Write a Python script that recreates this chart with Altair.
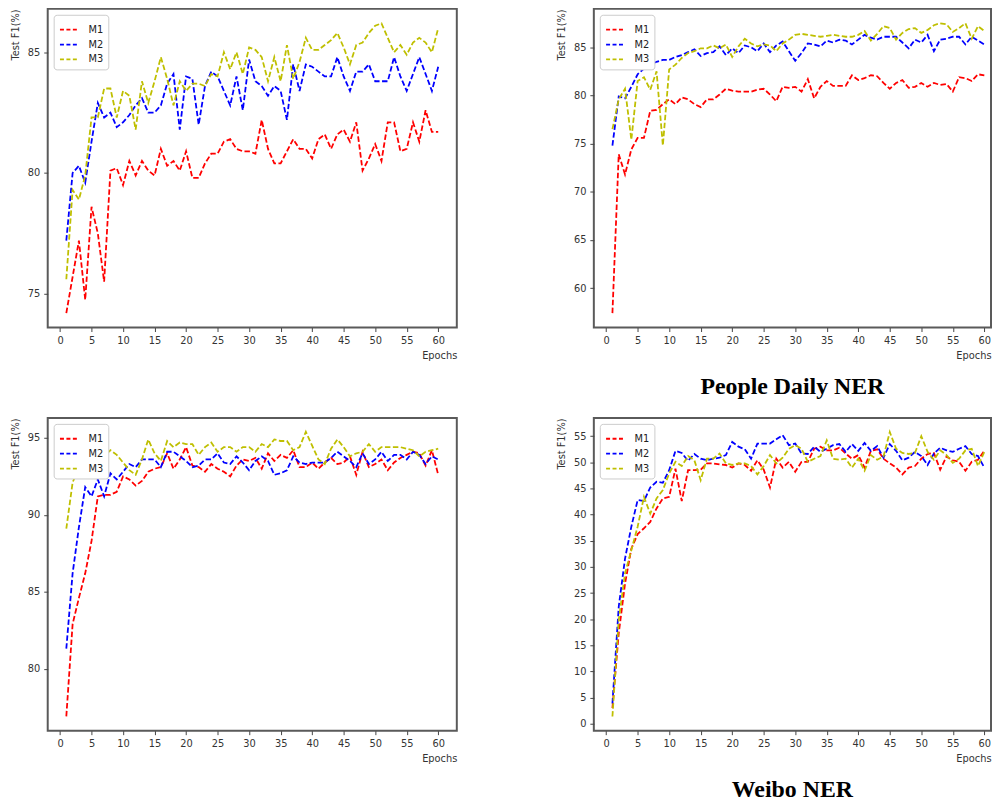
import altair as alt
import pandas as pd

epochs = list(range(1, 61))
models = ["M1", "M2", "M3"]
colors = ["#ff0000", "#0000ff", "#bfbf00"]
x_ticks = list(range(0, 61, 5))

# Panel 1 (top-left)
p1_m1 = [74.2, 75.7, 77.2, 74.75, 78.6, 77.5, 75.5, 80.1, 80.2, 79.5,
         80.5, 79.9, 80.5, 80.1, 79.9, 81.0, 80.3, 80.5, 80.1, 80.9,
         79.8, 79.8, 80.4, 80.8, 80.8, 81.3, 81.4, 81.0, 80.9, 80.9,
         80.8, 82.2, 81.0, 80.4, 80.4, 80.9, 81.4, 81.0, 81.0, 80.6,
         81.4, 81.6, 81.0, 81.6, 81.8, 81.3, 82.1, 80.1, 80.6, 81.2,
         80.5, 82.1, 82.1, 80.9, 81.0, 82.1, 81.3, 82.6, 81.7, 81.7]
p1_m2 = [77.2, 80.0, 80.3, 79.6, 81.3, 82.9, 82.3, 82.5, 81.9, 82.1,
         82.4, 82.8, 83.1, 82.5, 82.5, 82.8, 83.7, 84.1, 81.8, 84.0,
         83.9, 82.0, 83.6, 84.2, 84.0, 83.4, 82.8, 84.0, 82.6, 84.7,
         83.8, 83.6, 83.2, 83.6, 83.4, 82.2, 84.5, 83.4, 84.5, 84.4,
         84.2, 84.0, 84.0, 84.8, 84.0, 83.4, 84.2, 84.2, 84.5, 83.8,
         83.8, 83.8, 84.8, 84.0, 83.4, 84.1, 84.8, 84.1, 83.4, 84.4]
p1_m3 = [75.6, 79.3, 78.9, 79.9, 82.3, 82.3, 83.5, 83.5, 82.3, 83.4,
         83.2, 81.8, 83.8, 82.9, 83.8, 84.8, 83.9, 82.8, 83.8, 83.4,
         83.7, 83.7, 83.6, 84.1, 84.0, 85.0, 84.3, 85.0, 84.1, 85.2,
         85.1, 84.8, 83.8, 84.8, 83.8, 85.3, 83.9, 84.6, 85.6, 85.1,
         85.1, 85.3, 85.5, 85.8, 85.2, 84.5, 85.3, 85.4, 85.8, 86.1,
         86.2, 85.6, 85.0, 85.3, 84.9, 85.4, 85.6, 85.4, 85.0, 86.0]

# Panel 2 (People Daily NER)
p2_m1 = [57.4, 73.9, 71.8, 74.4, 75.6, 75.6, 78.4, 78.5, 79.1, 79.6,
         79.1, 79.8, 79.6, 79.1, 78.8, 79.6, 79.6, 80.1, 80.7, 80.5,
         80.4, 80.4, 80.4, 80.6, 80.7, 80.1, 79.4, 80.9, 80.8, 80.9,
         80.4, 81.7, 79.7, 80.9, 81.5, 81.0, 81.0, 81.0, 82.1, 81.6,
         81.8, 82.1, 82.0, 81.3, 80.7, 81.3, 81.6, 80.8, 80.9, 81.3,
         80.9, 81.3, 81.1, 81.2, 80.4, 81.9, 81.8, 81.5, 82.2, 82.1]
p2_m2 = [74.8, 79.9, 79.7, 80.9, 82.2, 82.8, 83.2, 83.5, 83.7, 83.7,
         84.0, 84.2, 84.5, 84.8, 84.1, 84.4, 84.5, 85.1, 84.2, 84.9,
         84.4, 85.2, 85.0, 84.6, 85.4, 84.5, 85.2, 85.6, 84.6, 83.6,
         84.4, 85.4, 85.3, 85.1, 85.7, 85.5, 85.8, 85.7, 85.3, 85.8,
         86.3, 86.0, 85.8, 86.1, 86.1, 86.1, 85.5, 84.9, 85.8, 85.5,
         86.3, 84.6, 85.8, 85.9, 86.1, 86.1, 85.3, 86.1, 85.7, 85.3]
p2_m3 = [76.5, 79.6, 80.7, 75.4, 81.5, 81.9, 80.6, 82.5, 74.8, 82.7,
         83.2, 83.9, 84.4, 84.6, 84.9, 84.9, 85.2, 84.9, 85.3, 84.0,
         85.1, 85.9, 85.4, 85.1, 85.3, 85.2, 84.6, 85.4, 85.8, 86.3,
         86.4, 86.3, 86.2, 86.1, 86.2, 86.3, 86.2, 86.1, 86.1, 86.3,
         86.7, 85.7, 86.4, 87.2, 87.0, 85.8, 86.5, 86.9, 87.0, 86.5,
         86.8, 87.3, 87.5, 87.4, 86.6, 87.0, 87.5, 85.9, 87.2, 86.7]

# Panel 3 (bottom-left)
p3_m1 = [76.9, 82.9, 84.6, 86.2, 88.3, 91.2, 91.3, 91.3, 91.5, 92.5,
         92.3, 91.9, 92.2, 92.8, 93.0, 93.1, 94.0, 93.0, 93.6, 94.4,
         93.2, 93.1, 92.8, 93.3, 93.0, 92.8, 92.5, 93.2, 93.6, 93.5,
         93.7, 93.0, 94.0, 93.5, 93.9, 93.7, 94.2, 93.1, 93.1, 93.4,
         93.0, 93.4, 93.7, 93.3, 93.4, 93.8, 92.6, 94.1, 93.1, 93.3,
         93.6, 92.9, 93.4, 93.7, 93.9, 94.1, 94.0, 93.2, 94.2, 92.6]
p3_m2 = [81.3, 86.2, 89.2, 91.8, 91.2, 92.3, 91.2, 92.7, 92.3, 92.8,
         93.3, 93.1, 93.6, 93.6, 93.6, 93.1, 94.1, 94.1, 93.8, 93.5,
         93.1, 93.2, 93.6, 93.6, 94.0, 93.4, 93.3, 93.8, 93.4, 92.9,
         93.5, 93.8, 93.5, 92.6, 92.7, 92.9, 93.8, 93.4, 93.3, 93.4,
         93.4, 93.4, 93.7, 94.1, 93.8, 93.5, 93.1, 94.0, 93.3, 93.6,
         94.1, 93.5, 93.9, 93.9, 93.6, 94.1, 93.9, 93.3, 93.8, 93.6]
p3_m3 = [89.1, 92.1, 93.1, 94.0, 94.1, 93.8, 93.8, 94.2, 93.9, 93.4,
         92.9, 92.6, 93.6, 94.9, 94.0, 93.5, 94.8, 94.4, 94.7, 94.6,
         94.6, 93.9, 94.4, 94.7, 94.1, 94.4, 94.4, 94.1, 94.4, 94.4,
         94.1, 94.6, 94.4, 94.9, 94.8, 94.8, 94.2, 94.4, 95.4, 94.5,
         93.6, 93.3, 94.3, 94.9, 94.4, 93.8, 94.0, 94.1, 94.6, 94.1,
         94.4, 94.4, 94.4, 94.4, 94.3, 94.2, 93.8, 94.1, 94.2, 94.3]

# Panel 4 (Weibo NER)
p4_m1 = [3.0, 17.3, 26.8, 33.5, 36.3, 37.4, 38.6, 41.2, 43.1, 43.4,
         48.8, 42.6, 48.5, 48.5, 48.6, 49.8, 49.8, 49.6, 49.5, 49.0,
         49.8, 49.5, 48.4, 50.4, 48.6, 45.2, 50.7, 49.0, 50.1, 48.2,
         50.1, 50.1, 52.6, 53.0, 52.3, 52.3, 52.8, 51.7, 50.7, 51.4,
         49.0, 52.2, 52.5, 50.7, 49.8, 49.0, 47.7, 49.0, 49.3, 50.7,
         51.6, 51.8, 48.6, 51.1, 50.4, 50.1, 48.4, 50.1, 50.5, 52.2]
p4_m2 = [3.9, 22.4, 31.6, 37.7, 42.8, 42.6, 45.2, 46.3, 46.1, 48.5,
         52.2, 51.8, 50.3, 51.6, 50.7, 50.4, 50.7, 50.9, 51.4, 53.9,
         53.0, 52.5, 50.7, 53.6, 53.6, 53.6, 54.4, 55.2, 53.3, 53.6,
         51.7, 51.6, 53.0, 52.0, 52.6, 53.3, 53.5, 52.0, 53.5, 52.2,
         53.7, 52.2, 53.1, 50.9, 53.5, 52.2, 50.4, 50.9, 52.0, 51.2,
         49.5, 51.7, 52.8, 52.3, 52.0, 52.6, 53.1, 51.6, 51.2, 49.0]
p4_m3 = [1.4, 19.8, 28.8, 33.2, 37.7, 43.4, 40.2, 43.1, 44.7, 47.9,
         50.1, 49.3, 51.2, 50.4, 46.6, 50.7, 50.7, 51.7, 49.8, 49.5,
         49.8, 49.8, 49.3, 47.7, 49.3, 51.4, 49.8, 50.9, 52.6, 53.3,
         52.6, 50.1, 50.7, 51.2, 54.2, 50.7, 50.5, 50.7, 49.0, 50.7,
         48.4, 51.4, 50.5, 51.1, 55.8, 52.6, 51.8, 51.6, 51.8, 55.0,
         52.0, 50.5, 52.3, 51.4, 49.9, 50.7, 52.3, 52.6, 49.3, 52.0]

LABEL_FONT = "Liberation Sans Narrow, DejaVu Sans Condensed, Roboto, sans-serif"


def panel(m1, m2, m3, ydom, yticks, width, height, xdom, title=None):
    df = pd.DataFrame({
        "epoch": epochs * 3,
        "f1": m1 + m2 + m3,
        "model": ["M1"] * 60 + ["M2"] * 60 + ["M3"] * 60,
    })
    ch = alt.Chart(df).mark_line(
        strokeDash=[5.5, 2.5], strokeWidth=1.8, clip=True
    ).encode(
        x=alt.X("epoch:Q",
                scale=alt.Scale(domain=xdom, nice=False, zero=False),
                axis=alt.Axis(values=x_ticks, title="Epochs", titleAnchor="end",
                              titleAlign="right", titlePadding=4, labelPadding=3,
                              format="d")),
        y=alt.Y("f1:Q",
                scale=alt.Scale(domain=ydom, nice=False, zero=False),
                axis=alt.Axis(values=yticks, title="Test F1(%)", titleAnchor="end",
                              titlePadding=7, labelPadding=4, format="d")),
        color=alt.Color("model:N",
                        scale=alt.Scale(domain=models, range=colors),
                        legend=alt.Legend(
                            title=None, orient="top-left", offset=6, padding=5,
                            strokeColor="#cccccc", fillColor="white", cornerRadius=3,
                            symbolType="stroke", symbolSize=300, symbolStrokeWidth=1.8,
                            symbolDash=[4, 2.5], labelFont=LABEL_FONT, labelFontSize=11,
                            labelColor="#222222", labelOffset=10, rowPadding=0)),
    ).properties(width=width, height=height)
    if title:
        ch = ch.properties(title=alt.TitleParams(
            title, orient="bottom", anchor="middle", frame="group",
            font="Liberation Serif", fontSize=24, fontWeight="bold",
            color="black", offset=15))
    return ch


LEFT_X = [-1.95, 62.95]
RIGHT_X = [-1.95, 61.06]

c1 = panel(p1_m1, p1_m2, p1_m3, [73.6, 86.8], [75, 80, 85], 412, 321, LEFT_X)
c2 = panel(p2_m1, p2_m2, p2_m3, [55.9, 89.0], [60, 65, 70, 75, 80, 85], 400, 321,
           RIGHT_X, "People Daily NER")
c3 = panel(p3_m1, p3_m2, p3_m3, [75.97, 96.3], [80, 85, 90, 95], 412, 315, LEFT_X)
c4 = panel(p4_m1, p4_m2, p4_m3, [-1.3, 58.5], list(range(0, 56, 5)), 400, 315,
           RIGHT_X, "Weibo NER")

row1 = alt.hconcat(c1, c2, spacing=97).resolve_scale(color="independent").resolve_legend(color="independent")
row2 = alt.hconcat(c3, c4, spacing=97).resolve_scale(color="independent").resolve_legend(color="independent")

chart = alt.vconcat(row1, row2, spacing=16).resolve_scale(
    color="independent"
).resolve_legend(
    color="independent"
).properties(
    padding={"left": 0, "top": -4, "right": 0, "bottom": -3}
).configure_view(
    stroke="#5a5a5a", strokeWidth=2
).configure_axis(
    domain=False, grid=False, tickColor="#444444", tickSize=4, tickWidth=1,
    labelFont=LABEL_FONT, labelFontSize=11, labelColor="#333333",
    titleFont=LABEL_FONT, titleFontSize=11, titleFontWeight="normal",
    titleColor="#333333"
)

chart.save("out.html", embed_options={"renderer": "svg", "actions": False})
